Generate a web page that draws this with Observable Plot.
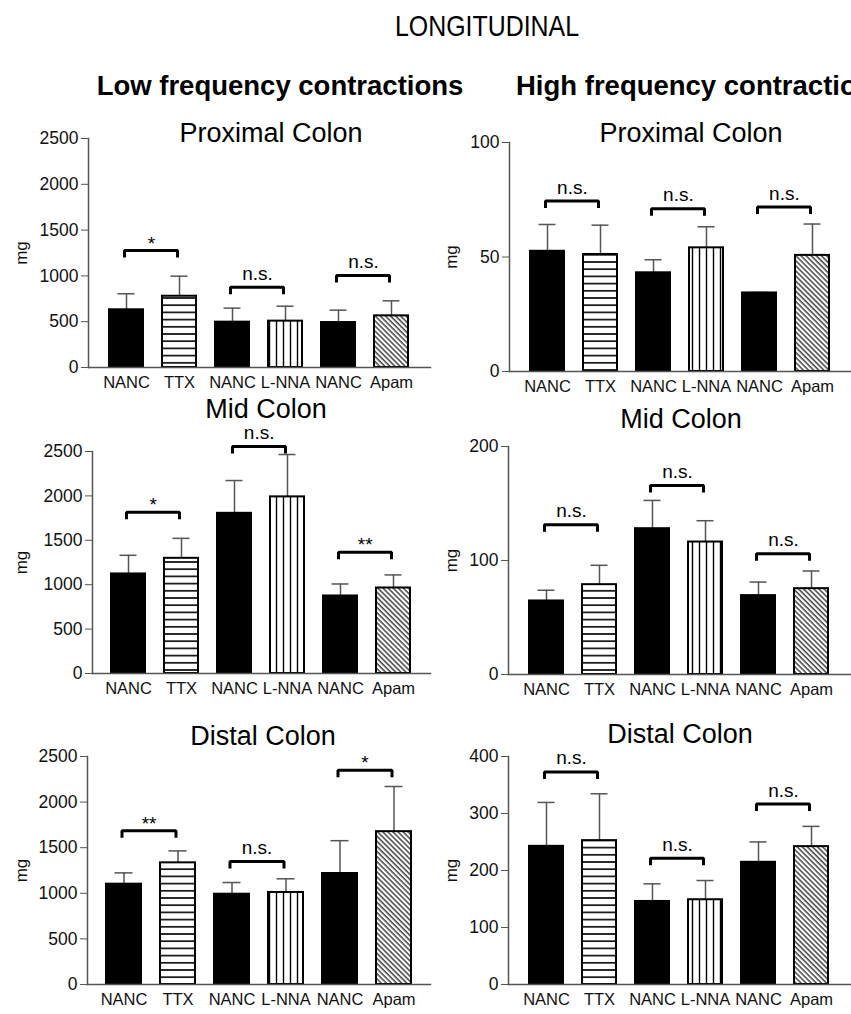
<!DOCTYPE html>
<html><head><meta charset="utf-8">
<script src="https://cdn.jsdelivr.net/npm/d3@7"></script>
<script src="https://cdn.jsdelivr.net/npm/@observablehq/plot@0.6"></script>
<style>
body{margin:0;background:#fff;}
#page{position:relative;width:851px;height:1014px;overflow:hidden;background:#fff;font-family:"Liberation Sans",Arial,sans-serif;}
.panel{position:absolute;}
.panel svg{overflow:visible;}
#overlay{position:absolute;left:0;top:0;pointer-events:none;}
</style></head><body>
<div id="page">
<svg width="0" height="0" style="position:absolute">
 <defs>
  <pattern id="hlines" patternUnits="userSpaceOnUse" width="8" height="7.2"><rect width="8" height="7.2" fill="white"/><line x1="0" x2="8" y1="3.6" y2="3.6" stroke="black" stroke-width="1.6"/></pattern>
  <pattern id="vlines" patternUnits="userSpaceOnUse" width="7" height="8"><rect width="7" height="8" fill="white"/><line x1="3.5" x2="3.5" y1="0" y2="8" stroke="black" stroke-width="1.4"/></pattern>
  <pattern id="diag" patternUnits="userSpaceOnUse" width="3.6" height="10" patternTransform="rotate(-45)"><rect width="3.6" height="10" fill="white"/><line x1="1" x2="1" y1="0" y2="10" stroke="black" stroke-width="1.1"/></pattern>
 </defs>
</svg>
</div>
<script>
// ---- data ----
const groups = ["NANC", "TTX", "NANC", "L-NNA", "NANC", "Apam"];
const pairs = [[0, 1], [2, 3], [4, 5]];

const lowTicks = [0, 500, 1000, 1500, 2000, 2500];
const proxHighTicks = [0, 50, 100];
const midHighTicks = [0, 100, 200];
const distHighTicks = [0, 100, 200, 300, 400];

const proxLowMean = [630, 778, 495, 506, 491, 564];
const proxLowSem = [175, 219, 153, 163, 135, 164];
const proxLowBracket = [1277, 877, 1004];
const proxLowSig = ["*", "n.s.", "n.s."];

const proxHighMean = [52.5, 51.1, 43.1, 54.0, 34.3, 50.7];
const proxHighSem = [11.7, 12.8, 5.7, 9.2, 0.2, 13.7];
const proxHighBracket = [74.4, 71.1, 71.8];
const proxHighSig = ["n.s.", "n.s.", "n.s."];

const midLowMean = [1121, 1297, 1804, 1989, 873, 963];
const midLowSem = [210, 225, 369, 477, 135, 147];
const midLowBracket = [1815, 2556, 1365];
const midLowSig = ["*", "n.s.", "**"];

const midHighMean = [64.5, 78.8, 127.9, 116.2, 69.2, 75.3];
const midHighSem = [9.4, 17.0, 24.8, 18.7, 11.9, 15.5];
const midHighBracket = [131.4, 165.8, 106];
const midHighSig = ["n.s.", "n.s.", "n.s."];

const distLowMean = [1100, 1334, 990, 1009, 1217, 1676];
const distLowSem = [124, 131, 128, 150, 360, 495];
const distLowBracket = [1687, 1348, 2350];
const distLowSig = ["**", "n.s.", "*"];

const distHighMean = [242.4, 252.4, 145.7, 148.7, 214.4, 241.9];
const distHighSem = [77.0, 82.2, 30.9, 33.7, 35.7, 35.5];
const distHighBracket = [373, 221.4, 316.6];
const distHighSig = ["n.s.", "n.s.", "n.s."];

const pageTitle = "LONGITUDINAL";
const columnTitles = ["Low frequency contractions", "High frequency contractions"];
const panelTitles = ["Proximal Colon", "Proximal Colon", "Mid Colon", "Mid Colon", "Distal Colon", "Distal Colon"];

// ---- drawing ----
const fills = {"NANC": "black", "TTX": "url(#hlines)", "L-NNA": "url(#vlines)", "Apam": "url(#diag)"};
const page = document.getElementById("page");
const FONT = "'Liberation Sans', Arial, sans-serif";

function panel(cfg) {
  const {left, top, width, height, mL, mT, mB, mR, yMax, yTicks, means, sems, brackets, sigs} = cfg;
  const rows = means.map((m, i) => ({i, label: groups[i], mean: m, top: m + sems[i]}));
  const innerH = height - mT - mB;
  const leg = 7 * yMax / innerH;
  const padIn = 0.35, padOut = 0.3475;
  const step = (width - mL - mR) / (6 - padIn + 2 * padOut);
  const bracketPts = pairs.flatMap(([a, b], k) => [
    {k, x: a, y: brackets[k] - leg}, {k, x: a, y: brackets[k]},
    {k, x: b, y: brackets[k]}, {k, x: b, y: brackets[k] - leg}]);
  const sigRows = pairs.map(([a, b], k) => ({x: a, y: brackets[k], text: sigs[k]}));
  const barMarks = Object.keys(fills).map(lab =>
    Plot.barY(rows.filter(d => d.label === lab), {x: "i", y: "mean", fill: fills[lab], stroke: "black", strokeWidth: 2}));
  const svg = Plot.plot({
    width, height, marginLeft: mL, marginRight: mR, marginTop: mT, marginBottom: mB,
    style: {fontFamily: FONT, fontSize: "16.5px", color: "#111", background: "transparent", overflow: "visible"},
    x: {type: "band", domain: d3.range(6), paddingInner: padIn, paddingOuter: padOut},
    y: {domain: [0, yMax]},
    marks: [
      Plot.axisX({tickFormat: i => groups[i], tickSize: 0, tickPadding: 9, label: null, fontSize: 16.5}),
      Plot.axisY({ticks: yTicks, tickFormat: d => String(d), tickSize: 7, tickPadding: 3, fontSize: 17.5,
                  stroke: "#555", label: null}),
      Plot.axisY({ticks: [], tickSize: 0, label: "mg", labelAnchor: "center", labelOffset: mL - 14,
                  labelArrow: "none", fontSize: 17}),
      Plot.ruleX(rows, {x: "i", y1: "mean", y2: "top", stroke: "#555", strokeWidth: 1.5}),
      Plot.tickY(rows, {x: "i", y: "top", stroke: "#555", strokeWidth: 1.5, insetLeft: 8.5, insetRight: 8.5}),
      ...barMarks,
      Plot.frame({anchor: "left", stroke: "#555", strokeWidth: 1.5}),
      Plot.frame({anchor: "bottom", stroke: "#555", strokeWidth: 1.5}),
      Plot.line(bracketPts, {x: "x", y: "y", z: "k", stroke: "black", strokeWidth: 3, dx: -2,
                             strokeLinejoin: "miter", strokeLinecap: "butt"}),
      Plot.text(sigRows.filter(d => d.text === "n.s."), {x: "x", y: "y", text: "text", dx: step / 2 - 2, dy: -7.5,
                             lineAnchor: "bottom", fontSize: 19, fill: "black"}),
      Plot.text(sigRows.filter(d => d.text !== "n.s."), {x: "x", y: "y", text: "text", dx: step / 2 - 2, dy: -1,
                             lineAnchor: "bottom", fontSize: 19, fill: "black"})
    ]
  });
  const div = document.createElement("div");
  div.className = "panel";
  div.style.left = left + "px";
  div.style.top = top + "px";
  div.appendChild(svg);
  page.appendChild(div);
}

panel({left: 0, top: 100, width: 430, height: 300, mL: 88, mR: 0, mT: 38, mB: 33, yMax: 2500, yTicks: lowTicks,
       means: proxLowMean, sems: proxLowSem, brackets: proxLowBracket, sigs: proxLowSig});
panel({left: 430, top: 100, width: 421, height: 300, mL: 79, mR: 1, mT: 42, mB: 29, yMax: 100, yTicks: proxHighTicks,
       means: proxHighMean, sems: proxHighSem, brackets: proxHighBracket, sigs: proxHighSig});
panel({left: 0, top: 400, width: 430, height: 305, mL: 92, mR: 0, mT: 51, mB: 32, yMax: 2500, yTicks: lowTicks,
       means: midLowMean, sems: midLowSem, brackets: midLowBracket, sigs: midLowSig});
panel({left: 430, top: 400, width: 421, height: 305, mL: 78, mR: 1, mT: 46, mB: 31, yMax: 200, yTicks: midHighTicks,
       means: midHighMean, sems: midHighSem, brackets: midHighBracket, sigs: midHighSig});
panel({left: 0, top: 700, width: 430, height: 314, mL: 87, mR: 0, mT: 56, mB: 30, yMax: 2500, yTicks: lowTicks,
       means: distLowMean, sems: distLowSem, brackets: distLowBracket, sigs: distLowSig});
panel({left: 430, top: 700, width: 421, height: 314, mL: 78, mR: 1, mT: 56, mB: 30, yMax: 400, yTicks: distHighTicks,
       means: distHighMean, sems: distHighSem, brackets: distHighBracket, sigs: distHighSig});

// titles overlay
const ov = d3.select(page).append("svg").attr("id", "overlay").attr("width", 851).attr("height", 1014);
ov.append("text").attr("x", 487).attr("y", 36).attr("text-anchor", "middle")
  .attr("font-family", "'Liberation Sans Narrow', 'Arial Narrow', 'Liberation Sans', Arial, sans-serif")
  .attr("font-size", 29).attr("textLength", 184).attr("lengthAdjust", "spacingAndGlyphs").text(pageTitle);
ov.append("text").attr("x", 280).attr("y", 95).attr("text-anchor", "middle")
  .attr("font-family", FONT).attr("font-weight", "bold").attr("font-size", 27.5).text(columnTitles[0]);
ov.append("text").attr("x", 516).attr("y", 95).attr("text-anchor", "start")
  .attr("font-family", FONT).attr("font-weight", "bold").attr("font-size", 27.5).text(columnTitles[1]);
const titlePos = [[271, 142], [691, 142], [266, 418], [681, 428], [263, 745], [680, 743]];
panelTitles.forEach((t, k) => {
  ov.append("text").attr("x", titlePos[k][0]).attr("y", titlePos[k][1]).attr("text-anchor", "middle")
    .attr("font-family", FONT).attr("font-size", 27).text(t);
});
</script>
</body></html>
